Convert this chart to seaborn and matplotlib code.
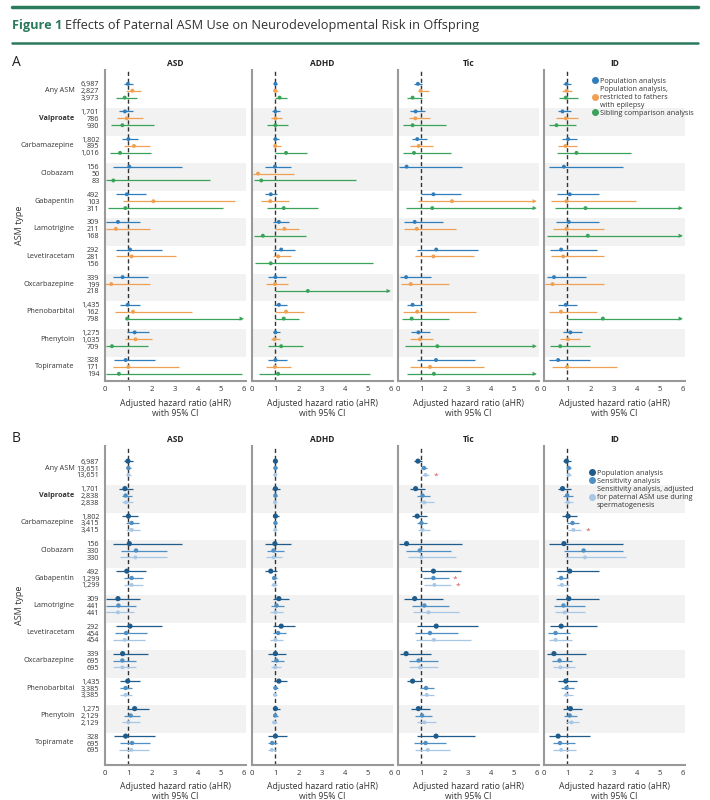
import numpy as np
import pandas as pd
import seaborn as sns
import matplotlib.pyplot as plt
from matplotlib.lines import Line2D

# 薬剤とアウトカム
drugs = ['Any ASM', 'Valproate', 'Carbamazepine', 'Clobazam', 'Gabapentin', 'Lamotrigine',
         'Levetiracetam', 'Oxcarbazepine', 'Phenobarbital', 'Phenytoin', 'Topiramate']
outcomes = ['ASD', 'ADHD', 'Tic', 'ID']

# 対象者数
n_pop = ['6,987', '1,701', '1,802', '156', '492', '309', '292', '339', '1,435', '1,275', '328']
n_epi = ['2,827', '786', '895', '50', '103', '211', '281', '199', '162', '1,035', '171']
n_sib = ['3,973', '930', '1,016', '83', '311', '168', '156', '218', '798', '709', '194']
n_sens = ['13,651', '2,838', '3,415', '330', '1,299', '441', '454', '695', '3,385', '2,129', '695']

# aHR [推定値, 下限, 上限]  (上限 > 6 は矢印)
asd_pop = [[0.99, 0.80, 1.20], [0.86, 0.60, 1.21], [1.01, 0.75, 1.42], [1.05, 0.35, 3.31], [0.94, 0.49, 1.78],
           [0.56, 0.06, 1.50], [1.08, 0.49, 2.45], [0.76, 0.35, 1.87], [0.98, 0.66, 1.51], [1.28, 0.95, 1.88],
           [0.89, 0.37, 2.14]]
asd_epi = [[1.18, 0.89, 1.54], [0.94, 0.52, 1.64], [1.25, 0.82, 1.93], None, [2.09, 0.79, 5.60],
           [0.47, 0.03, 1.93], [1.15, 0.49, 3.05], [0.27, 0.02, 1.93], [1.21, 0.42, 3.77], [1.32, 0.88, 2.04],
           [1.01, 0.35, 3.19]]
asd_sib = [[0.85, 0.49, 1.40], [0.75, 0.27, 2.12], [0.65, 0.22, 2.00], [0.36, 0.05, 4.53], [0.88, 0.13, 5.10],
           None, None, None, [0.96, 0.88, 6.50], [0.30, 0.06, 1.86], [0.60, 0.06, 5.93]]

adhd_pop = [[1.01, 0.93, 1.10], [1.01, 0.86, 1.21], [1.01, 0.90, 1.16], [0.99, 0.57, 1.69], [0.81, 0.57, 1.06],
            [1.16, 0.90, 1.61], [1.26, 0.90, 1.86], [1.01, 0.69, 1.47], [1.16, 0.97, 1.50], [1.01, 0.89, 1.21],
            [1.01, 0.69, 1.53]]
adhd_epi = [[1.00, 0.90, 1.13], [1.01, 0.83, 1.30], [1.00, 0.89, 1.26], [0.26, 0.03, 1.81], [0.79, 0.40, 1.59],
            [1.40, 1.01, 2.03], [1.13, 0.90, 1.69], [0.99, 0.60, 1.57], [1.47, 1.01, 2.24], [0.97, 0.81, 1.21],
            [0.99, 0.60, 1.69]]
adhd_sib = [[1.19, 1.01, 1.50], [1.01, 0.64, 1.57], [1.47, 1.01, 2.36], [0.40, 0.10, 4.50], [1.37, 0.66, 2.83],
            [0.47, 0.07, 2.31], [0.81, 0.14, 5.24], [2.41, 1.01, 6.50], [1.37, 1.01, 2.04], [1.26, 0.71, 2.19],
            [1.13, 0.29, 5.10]]

tic_pop = [[0.86, 0.70, 1.05], [0.76, 0.52, 1.17], [0.83, 0.62, 1.24], [0.37, 0.06, 2.78], [1.53, 1.00, 2.71],
           [0.72, 0.26, 1.93], [1.65, 0.81, 3.47], [0.35, 0.09, 1.41], [0.63, 0.37, 1.05], [0.88, 0.55, 1.38],
           [1.64, 0.83, 3.34]]
tic_epi = [[0.98, 0.86, 1.32], [0.75, 0.47, 1.40], [0.89, 0.53, 1.53], None, [2.33, 0.87, 6.50],
           [0.81, 0.26, 2.52], [1.53, 0.75, 3.28], [0.55, 0.14, 2.20], [0.83, 0.20, 3.37], [0.95, 0.50, 1.53],
           [1.38, 0.52, 3.71]]
tic_sib = [[0.63, 0.40, 1.04], [0.63, 0.20, 2.09], [0.69, 0.20, 2.29], None, [1.48, 0.35, 6.50],
           None, None, None, [0.59, 0.17, 2.19], [1.70, 0.32, 6.50], [1.55, 0.37, 6.50]]

id_pop = [[0.97, 0.80, 1.16], [0.80, 0.59, 1.16], [1.04, 0.79, 1.44], [0.86, 0.23, 3.43], [1.11, 0.54, 2.37],
          [1.07, 0.51, 2.37], [0.74, 0.26, 2.29], [0.43, 0.14, 1.80], [0.94, 0.61, 1.44], [1.14, 0.80, 1.63],
          [0.61, 0.21, 1.97]]
id_epi = [[0.97, 0.77, 1.20], [0.94, 0.51, 1.47], [0.93, 0.61, 1.44], None, [0.97, 0.29, 3.97],
          [0.97, 0.40, 2.61], [0.83, 0.29, 2.59], [0.37, 0.06, 2.61], [0.73, 0.23, 2.29], [1.04, 0.69, 1.57],
          [1.00, 0.34, 3.17]]
id_sib = [[0.94, 0.63, 1.47], [0.54, 0.23, 1.40], [1.40, 0.54, 3.77], None, [1.79, 0.47, 6.50],
          [1.89, 0.14, 6.50], None, None, [2.54, 1.00, 6.50], [0.70, 0.26, 1.97], None]

# 感度分析 (B)
asd_sens = [[1.01, 0.89, 1.12], [0.89, 0.72, 1.17], [1.15, 0.89, 1.47], [1.34, 0.68, 2.69], [1.15, 0.82, 1.65],
            [0.58, 0.06, 1.35], [0.91, 0.42, 1.81], [0.75, 0.35, 1.35], [0.89, 0.66, 1.18], [1.11, 0.81, 1.50],
            [1.17, 0.65, 1.93]]
asd_adj = [[1.01, 0.90, 1.12], [0.90, 0.73, 1.21], [1.15, 0.89, 1.50], [1.31, 0.63, 2.68], [1.15, 0.82, 1.65],
           [0.56, 0.06, 1.27], [0.85, 0.36, 1.74], [0.75, 0.35, 1.35], [0.89, 0.66, 1.18], [1.01, 0.72, 1.50],
           [1.14, 0.60, 1.90]]
adhd_sens = [[1.01, 0.96, 1.06], [1.01, 0.92, 1.10], [1.01, 0.94, 1.09], [0.93, 0.64, 1.37], [0.96, 0.86, 1.10],
             [1.06, 0.80, 1.36], [1.13, 0.90, 1.47], [1.06, 0.84, 1.36], [1.01, 0.93, 1.12], [1.00, 0.90, 1.13],
             [0.87, 0.71, 1.06]]
adhd_adj = [[1.00, 0.96, 1.05], [0.99, 0.93, 1.07], [1.00, 0.95, 1.06], [0.93, 0.62, 1.31], [0.95, 0.84, 1.09],
            [1.01, 0.76, 1.34], [1.01, 0.76, 1.34], [1.00, 0.84, 1.26], [0.99, 0.93, 1.08], [0.96, 0.86, 1.09],
            [0.86, 0.71, 1.04]]
tic_sens = [[1.12, 0.98, 1.26], [1.06, 0.83, 1.38], [1.01, 0.83, 1.25], [0.94, 0.35, 2.28], [1.53, 1.10, 2.20],
            [1.14, 0.60, 2.20], [1.38, 0.72, 2.60], [0.89, 0.47, 1.72], [1.21, 0.96, 1.55], [1.04, 0.72, 1.45],
            [1.19, 0.68, 2.07]]
tic_adj = [[1.19, 1.04, 1.35], [1.14, 0.90, 1.55], [1.06, 0.88, 1.38], [1.01, 0.43, 2.50], [1.57, 1.12, 2.30],
           [1.32, 0.66, 2.65], [1.55, 0.78, 3.13], [0.95, 0.46, 1.74], [1.24, 0.97, 1.57], [1.14, 0.80, 1.62],
           [1.29, 0.72, 2.26]]
id_sens = [[1.07, 0.97, 1.17], [1.00, 0.80, 1.24], [1.23, 1.00, 1.53], [1.71, 0.86, 3.43], [0.74, 0.51, 1.03],
           [0.84, 0.43, 1.77], [0.50, 0.16, 1.11], [0.67, 0.34, 1.23], [0.97, 0.74, 1.30], [1.11, 0.87, 1.41],
           [0.69, 0.37, 1.34]]
id_adj = [[1.07, 0.97, 1.17], [1.04, 0.86, 1.27], [1.27, 1.04, 1.60], [1.77, 0.89, 3.54], [0.77, 0.54, 1.06],
          [0.89, 0.46, 1.77], [0.50, 0.20, 1.20], [0.71, 0.37, 1.34], [0.97, 0.80, 1.24], [1.19, 0.96, 1.53],
          [0.74, 0.40, 1.40]]

# 有意差マーク (B): (アウトカム, 薬剤番号, 分析)
sig_marks = [('Tic', 0, 'adj'), ('Tic', 4, 'sens'), ('Tic', 4, 'adj'), ('ID', 2, 'adj')]

panel_data = {
    'A': {'ASD': [asd_pop, asd_epi, asd_sib], 'ADHD': [adhd_pop, adhd_epi, adhd_sib],
          'Tic': [tic_pop, tic_epi, tic_sib], 'ID': [id_pop, id_epi, id_sib]},
    'B': {'ASD': [asd_pop, asd_sens, asd_adj], 'ADHD': [adhd_pop, adhd_sens, adhd_adj],
          'Tic': [tic_pop, tic_sens, tic_adj], 'ID': [id_pop, id_sens, id_adj]},
}
panel_keys = {'A': ['pop', 'epi', 'sib'], 'B': ['pop', 'sens', 'adj']}
panel_n = {'A': [n_pop, n_epi, n_sib], 'B': [n_pop, n_sens, n_sens]}
palette = {'A': {'pop': '#2f7dbb', 'epi': '#f0a052', 'sib': '#3aa35a'},
           'B': {'pop': '#1f5c8c', 'sens': '#4f8fc3', 'adj': '#a6c7e5'}}
sizes = {'A': {'pop': 8, 'epi': 8, 'sib': 8}, 'B': {'pop': 14, 'sens': 10, 'adj': 8}}
legend_labels = {'A': ['Population analysis', 'Population analysis,\nrestricted to fathers\nwith epilepsy',
                       'Sibling comparison analysis'],
                 'B': ['Population analysis', 'Sensitivity analysis',
                       'Sensitivity analysis, adjusted\nfor paternal ASM use during\nspermatogenesis']}

# 縦長データに変換
records = []
for p, outs in panel_data.items():
    for outcome, series in outs.items():
        for k, (key, values) in enumerate(zip(panel_keys[p], series)):
            for g, v in enumerate(values):
                if v is None:
                    continue
                records.append({'panel': p, 'outcome': outcome, 'analysis': key, 'group': g,
                                'y': g * 4 + k, 'hr': v[0], 'lo': v[1], 'hi': v[2]})
df = pd.DataFrame(records)
df['hi_clip'] = df['hi'].clip(upper=5.9)

sns.set_style('white')
plt.rcParams['font.family'] = ['Open Sans', 'DejaVu Sans']

fig = plt.figure(figsize=(7.1, 8.0), dpi=100)
W, H = 710, 800
lefts = [105, 252, 398, 544]
ax_w = 141.3
panel_box = {'A': (70, 381.4, (43.1, -2.0)), 'B': (446, 765, (44.2, -2.2))}
txt = '#333333'

# タイトル
green = '#2a7a5c'
fig.add_artist(Line2D([12 / W, 698 / W], [1 - 7 / H, 1 - 7 / H], color=green, lw=2.5))
fig.add_artist(Line2D([12 / W, 698 / W], [1 - 43 / H, 1 - 43 / H], color=green, lw=1.8))
t1 = fig.text(12 / W, 1 - 25 / H, 'Figure 1', color=green, fontsize=9.2, fontweight='bold', va='center')
fig.canvas.draw()
bb = t1.get_window_extent(fig.canvas.get_renderer())
fig.text(bb.x1 / W + 3 / W, 1 - 25 / H, 'Effects of Paternal ASM Use on Neurodevelopmental Risk in Offspring',
         color=txt, fontsize=9.2, va='center')

for p in ['A', 'B']:
    top, bottom, ylim = panel_box[p]
    fig.text(12 / W, 1 - (top - 7) / H, p, fontsize=10, va='center', color='#222222')
    fig.text(20 / W, 1 - ((top + bottom) / 2) / H, 'ASM type', rotation=90, fontsize=6.5,
             va='center', ha='center', color=txt)
    for i, outcome in enumerate(outcomes):
        ax = fig.add_axes([lefts[i] / W, 1 - bottom / H, ax_w / W, (bottom - top) / H])
        d = df[(df.panel == p) & (df.outcome == outcome)]
        for g in range(1, len(drugs), 2):
            ax.axhspan(g * 4 - 0.5, g * 4 + 3.5, color='#f2f2f2', lw=0, zorder=0)
        ax.axvline(1, color='#333333', lw=1, ls=(0, (3, 2)), zorder=1)
        ax.hlines(d['y'], d['lo'], d['hi_clip'], colors=d['analysis'].map(palette[p]), lw=0.9, zorder=2)
        sns.scatterplot(data=d, x='hr', y='y', hue='analysis', palette=palette[p], size='analysis',
                        sizes=sizes[p], edgecolor='none', legend=False, ax=ax, zorder=3)
        arr = d[d['hi'] > 6]
        ax.scatter(arr['hi_clip'], arr['y'], marker='>', s=9, c=arr['analysis'].map(palette[p]),
                   edgecolors='none', zorder=3)
        if p == 'B':
            for o, g, key in sig_marks:
                if o != outcome:
                    continue
                row = d[(d.group == g) & (d.analysis == key)].iloc[0]
                ax.annotate('*', (row['hi'], row['y']), xytext=(3, -1), textcoords='offset points',
                            color='#d9534f', fontsize=6, va='center', ha='left')
        ax.set_xlim(0, 6.1)
        ax.set_ylim(*ylim)
        ax.set_xticks(range(7))
        ax.tick_params(axis='x', labelsize=5.5, length=2, width=0.8, color='#999999', pad=1.5, labelcolor=txt)
        ax.set_xlabel('Adjusted hazard ratio (aHR)\nwith 95% CI', fontsize=6.2, color=txt, labelpad=4,
                      linespacing=1.15)
        ax.set_ylabel('')
        ax.set_title(outcome, fontsize=6, fontweight='bold', pad=3, color='#222222')
        for s in ['top', 'right']:
            ax.spines[s].set_visible(False)
        for s in ['left', 'bottom']:
            ax.spines[s].set_color('#999999')
            ax.spines[s].set_linewidth(1.5)
        if i == 0:
            yt, yl = [], []
            for k, ns in enumerate(panel_n[p]):
                for g, n in enumerate(ns):
                    yt.append(g * 4 + k)
                    yl.append(n)
            ax.set_yticks(yt)
            ax.set_yticklabels(yl)
            ax.tick_params(axis='y', labelsize=5.2, length=0, pad=4, labelcolor=txt)
            for g, name in enumerate(drugs):
                ax.annotate(name, (0, g * 4 + 1), xycoords=('axes fraction', 'data'), xytext=(-22, 0),
                            textcoords='offset points', ha='right', va='center', fontsize=5.2, color=txt,
                            fontweight='bold' if name == 'Valproate' else 'normal')
        else:
            ax.set_yticks([])
        if i == 3:
            handles = [Line2D([], [], marker='o', ls='', color=palette[p][k], markersize=4)
                       for k in panel_keys[p]]
            leg_x = 588 / W if p == 'A' else 585 / W
            leg_y = 1 - (top + 4) / H if p == 'A' else 1 - (top + 20) / H
            ax.legend(handles, legend_labels[p], loc='upper left', bbox_to_anchor=(leg_x, leg_y),
                      bbox_transform=fig.transFigure, frameon=False, fontsize=5.2, handlelength=0.8,
                      handletextpad=0.3, labelspacing=0.15, borderpad=0, labelcolor=txt)

fig.savefig('out.png', dpi=100)
